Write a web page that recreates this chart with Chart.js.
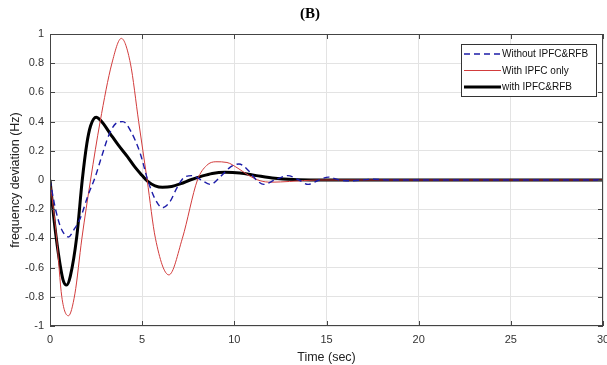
<!DOCTYPE html>
<html>
<head>
<meta charset="utf-8">
<script src="https://cdn.jsdelivr.net/npm/chart.js@4"></script>
<style>
  html, body { margin: 0; padding: 0; background: #fff; }
  #wrap { width: 607px; height: 365px; position: relative; }
</style>
</head>
<body>
<div id="wrap"><canvas id="chart1"></canvas></div>
<script>
// Without IPFC&RFB (blue dashed)
const tBlue = [0, 0.3, 0.6, 1.0, 1.3, 1.65, 2.05, 2.45, 2.8, 3.2, 3.6, 3.95, 4.4, 4.9, 5.3, 5.7, 6.1, 6.5, 6.9, 7.3, 7.7, 8.2, 8.7, 9.3, 9.8, 10.25, 10.8, 11.2, 11.6, 12.2, 12.9, 13.5, 14.0, 14.6, 15.1, 15.7, 16.3, 17.5, 18.5, 30];
const yBlue = [0, -0.2, -0.33, -0.39, -0.34, -0.26, -0.11, 0.02, 0.16, 0.31, 0.39, 0.40, 0.33, 0.18, 0.0, -0.13, -0.19, -0.15, -0.05, 0.02, 0.03, 0.0, -0.03, 0.03, 0.09, 0.11, 0.06, 0.0, -0.03, 0.0, 0.03, 0.0, -0.03, 0.0, 0.02, 0.0, -0.005, 0.005, 0, 0];

// With IPFC only (red)
const tRed = [0, 0.36, 0.64, 1.0, 1.35, 1.73, 2.2, 2.72, 3.36, 3.87, 4.36, 4.81, 5.27, 5.72, 6.45, 7.18, 8.0, 8.5, 9.0, 9.6, 10.2, 10.8, 11.4, 12.0, 13.0, 14.5, 30];
const yRed = [0, -0.4, -0.8, -0.93, -0.78, -0.4, 0.0, 0.4, 0.8, 0.97, 0.8, 0.4, 0.0, -0.4, -0.65, -0.4, 0.0, 0.1, 0.125, 0.12, 0.08, 0.03, -0.005, -0.015, -0.01, 0, 0];

// with IPFC&RFB (black)
const tBlack = [0, 0.2, 0.45, 0.7, 0.9, 1.1, 1.45, 1.75, 2.0, 2.2, 2.5, 2.8, 3.25, 3.7, 4.2, 4.6, 4.9, 5.3, 5.7, 6.1, 6.6, 7.1, 7.6, 8.2, 8.8, 9.5, 10.3, 11.2, 12.2, 13.2, 14.5, 30];
const yBlack = [0, -0.25, -0.5, -0.68, -0.72, -0.66, -0.39, 0.0, 0.25, 0.37, 0.43, 0.40, 0.32, 0.24, 0.16, 0.09, 0.045, -0.01, -0.04, -0.05, -0.045, -0.025, 0.0, 0.025, 0.045, 0.053, 0.048, 0.03, 0.012, 0.003, 0, 0];

const xTicks = [0, 5, 10, 15, 20, 25, 30];
const yTicks = [-1, -0.8, -0.6, -0.4, -0.2, 0, 0.2, 0.4, 0.6, 0.8, 1];

const toXY = (ts, ys) => ts.map((t, i) => ({ x: t, y: ys[i] }));

const frame = {
  id: 'frame',
  afterDraw(chart) {
    const c = chart.ctx, a = chart.chartArea;
    const xs = chart.scales.x, ys = chart.scales.y;
    c.save();
    c.strokeStyle = '#444';
    c.lineWidth = 1;
    c.strokeRect(a.left + 0.5, a.top + 0.5, a.right - a.left - 1, a.bottom - a.top - 1);
    c.beginPath();
    xTicks.forEach(v => {
      const px = Math.round(xs.getPixelForValue(v)) + 0.5;
      c.moveTo(px, a.bottom); c.lineTo(px, a.bottom - 5);
      c.moveTo(px, a.top); c.lineTo(px, a.top + 5);
    });
    yTicks.forEach(v => {
      const py = Math.round(ys.getPixelForValue(v)) + 0.5;
      c.moveTo(a.left, py); c.lineTo(a.left + 5, py);
      c.moveTo(a.right, py); c.lineTo(a.right - 5, py);
    });
    c.stroke();

    // title
    c.fillStyle = '#000';
    c.font = 'bold 15px "Liberation Serif"';
    c.textAlign = 'center';
    c.textBaseline = 'middle';
    c.fillText('(B)', 310, 14);

    // legend
    const lx = 461, ly = 44, lw = 135, lh = 52;
    c.fillStyle = '#fff';
    c.fillRect(lx, ly, lw, lh);
    c.strokeStyle = '#333';
    c.lineWidth = 1;
    c.strokeRect(lx + 0.5, ly + 0.5, lw, lh);
    c.font = '10px "Liberation Sans"';
    c.textAlign = 'left';
    chart.data.datasets.forEach((ds, i) => {
      const yy = ly + 10 + i * 16.5;
      c.save();
      c.strokeStyle = ds.borderColor;
      c.lineWidth = ds.borderWidth;
      c.setLineDash(ds.borderDash || []);
      c.beginPath();
      c.moveTo(lx + 3, yy); c.lineTo(lx + 40, yy);
      c.stroke();
      c.restore();
      c.fillStyle = '#111';
      c.fillText(ds.label, lx + 41, yy + 0.5);
    });
    c.restore();
  }
};

const tickFont = { family: 'Liberation Sans', size: 11 };
const titleFont = { family: 'Liberation Sans', size: 12.5 };

new Chart(document.getElementById('chart1'), {
  type: 'line',
  data: {
    datasets: [
      {
        label: 'Without IPFC&RFB',
        data: toXY(tBlue, yBlue),
        borderColor: '#1c1ca8',
        borderWidth: 1.4,
        borderDash: [6, 4],
        cubicInterpolationMode: 'monotone',
        pointRadius: 0,
        fill: false
      },
      {
        label: 'With IPFC only',
        data: toXY(tRed, yRed),
        borderColor: '#d23c3c',
        borderWidth: 1,
        cubicInterpolationMode: 'monotone',
        pointRadius: 0,
        fill: false
      },
      {
        label: 'with IPFC&RFB',
        data: toXY(tBlack, yBlack),
        borderColor: '#000',
        borderWidth: 3,
        cubicInterpolationMode: 'monotone',
        pointRadius: 0,
        fill: false
      }
    ]
  },
  options: {
    responsive: true,
    maintainAspectRatio: false,
    animation: false,
    layout: { padding: { top: 34, right: 4, left: 0, bottom: 0 } },
    plugins: { legend: { display: false }, title: { display: false }, tooltip: { enabled: false } },
    scales: {
      x: {
        type: 'linear',
        min: 0, max: 30,
        afterBuildTicks: s => { s.ticks = xTicks.map(v => ({ value: v })); },
        afterFit: s => { s.height = 39; s.paddingLeft = 0; s.paddingRight = 0; },
        grid: { color: '#e3e3e3', drawTicks: false },
        border: { display: false },
        ticks: { color: '#333', font: tickFont, padding: 7, maxRotation: 0 },
        title: { display: true, text: 'Time (sec)', color: '#222', font: titleFont, padding: { top: 0, bottom: 0 } }
      },
      y: {
        min: -1, max: 1,
        afterBuildTicks: s => { s.ticks = yTicks.map(v => ({ value: v })); },
        afterFit: s => { s.width = 50; },
        grid: { color: '#e3e3e3', drawTicks: false },
        border: { display: false },
        ticks: { color: '#333', font: tickFont, padding: 6, callback: v => String(Math.round(v * 10) / 10) },
        title: { display: true, text: 'frequency deviation (Hz)', color: '#222', font: titleFont, padding: { top: 8, bottom: 0 } }
      }
    }
  },
  plugins: [frame]
});
</script>
</body>
</html>
